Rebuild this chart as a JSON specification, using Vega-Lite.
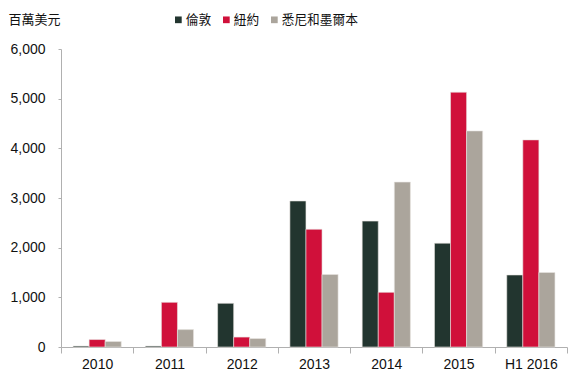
{
  "$schema": "https://vega.github.io/schema/vega-lite/v6.json",
  "width": 506,
  "height": 298,
  "autosize": {"type": "none"},
  "padding": {"left": 61, "top": 49, "right": 13, "bottom": 32},
  "background": "white",
  "data": {
    "values": [
      {"period": "2010", "city": "倫敦", "value": 20},
      {"period": "2010", "city": "紐約", "value": 150},
      {"period": "2010", "city": "悉尼和墨爾本", "value": 110},
      {"period": "2011", "city": "倫敦", "value": 20},
      {"period": "2011", "city": "紐約", "value": 900},
      {"period": "2011", "city": "悉尼和墨爾本", "value": 350},
      {"period": "2012", "city": "倫敦", "value": 880},
      {"period": "2012", "city": "紐約", "value": 200},
      {"period": "2012", "city": "悉尼和墨爾本", "value": 170},
      {"period": "2013", "city": "倫敦", "value": 2940},
      {"period": "2013", "city": "紐約", "value": 2370},
      {"period": "2013", "city": "悉尼和墨爾本", "value": 1460},
      {"period": "2014", "city": "倫敦", "value": 2535},
      {"period": "2014", "city": "紐約", "value": 1100},
      {"period": "2014", "city": "悉尼和墨爾本", "value": 3320},
      {"period": "2015", "city": "倫敦", "value": 2090},
      {"period": "2015", "city": "紐約", "value": 5130},
      {"period": "2015", "city": "悉尼和墨爾本", "value": 4350},
      {"period": "H1 2016", "city": "倫敦", "value": 1450},
      {"period": "H1 2016", "city": "紐約", "value": 4170},
      {"period": "H1 2016", "city": "悉尼和墨爾本", "value": 1500}
    ]
  },
  "mark": {"type": "bar", "stroke": "#e8e4e0", "strokeWidth": 0.6},
  "encoding": {
    "x": {
      "field": "period",
      "type": "nominal",
      "sort": null,
      "scale": {"paddingInner": 0, "paddingOuter": 0},
      "axis": {
        "title": null,
        "labelAngle": 0,
        "labelFont": "Liberation Sans",
        "labelFontSize": 14,
        "labelColor": "#111111",
        "labelPadding": 4,
        "domainColor": "#b0b0b0",
        "tickColor": "#b0b0b0",
        "tickBand": "extent",
        "tickSize": 6,
        "grid": false
      }
    },
    "xOffset": {
      "field": "city",
      "type": "nominal",
      "sort": ["倫敦", "紐約", "悉尼和墨爾本"],
      "scale": {"paddingInner": 0, "paddingOuter": 0.75}
    },
    "y": {
      "field": "value",
      "type": "quantitative",
      "scale": {"domain": [0, 6000], "nice": false},
      "axis": {
        "values": [0, 1000, 2000, 3000, 4000, 5000, 6000],
        "format": ",d",
        "grid": false,
        "labelFont": "Liberation Sans",
        "labelFontSize": 14,
        "labelColor": "#111111",
        "labelPadding": 13,
        "domainColor": "#b0b0b0",
        "tickColor": "#b0b0b0",
        "tickSize": 3,
        "title": "百萬美元",
        "titleFont": "Noto Sans CJK TC",
        "titleFontSize": 13,
        "titleFontWeight": "normal",
        "titleColor": "#111111",
        "titleAngle": 0,
        "titleAlign": "left",
        "titleBaseline": "middle",
        "titleX": -53,
        "titleY": -30
      }
    },
    "color": {
      "field": "city",
      "type": "nominal",
      "sort": ["倫敦", "紐約", "悉尼和墨爾本"],
      "scale": {
        "domain": ["倫敦", "紐約", "悉尼和墨爾本"],
        "range": ["#22352f", "#d0103a", "#aba59c"]
      },
      "legend": {
        "title": null,
        "orient": "none",
        "direction": "horizontal",
        "legendX": 111,
        "legendY": -36,
        "symbolType": "square",
        "symbolSize": 45,
        "symbolStrokeWidth": 0,
        "labelFont": "Noto Sans CJK TC",
        "labelFontSize": 12.7,
        "labelColor": "#111111",
        "labelOffset": 1,
        "columnPadding": 8
      }
    }
  },
  "config": {"view": {"stroke": null}}
}
